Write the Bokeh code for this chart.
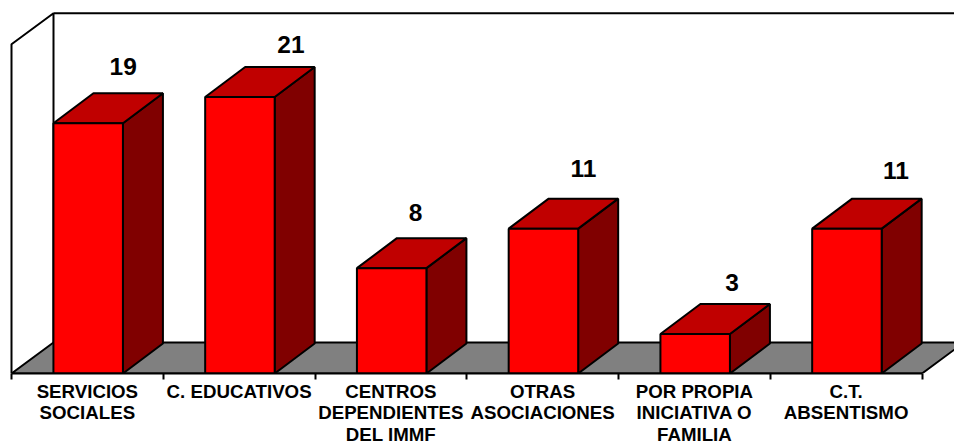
from bokeh.embed import file_html
from bokeh.resources import INLINE
from bokeh.plotting import figure
from bokeh.models import ColumnDataSource, FixedTicker, Range1d
from bokeh.core.properties import value

categories = ["SERVICIOS\nSOCIALES", "C. EDUCATIVOS", "CENTROS\nDEPENDIENTES\nDEL IMMF",
              "OTRAS\nASOCIACIONES", "POR PROPIA\nINICIATIVA O\nFAMILIA", "C.T.\nABSENTISMO"]
values = [19, 21, 8, 11, 3, 11]
axis_max = 25

# pixels per unit of the two scales, and the oblique depth of the 3D box
PX_X, PX_Y = 151.75, 13.17
wall_dx, wall_dy = 42 / PX_X, 31 / PX_Y
bar_dx, bar_dy = 40 / PX_X, 30 / PX_Y
bar_w = 69.5 / PX_X
bar_shift = 0.8 / PX_X

# hand-placed data labels in the original: pixel offsets from the bar's front-top centre
label_dx = [35, 51, 24, 40, 37, 49]
label_dy = [57, 52, 56, 60, 51, 58]

n = len(values)
FW, FH = 954, 373

p = figure(frame_width=FW, frame_height=FH, min_border=0, toolbar_location=None,
           output_backend="svg",
           x_range=Range1d(-11 / PX_X, (FW - 11) / PX_X),
           y_range=Range1d(0, FH / PX_Y),
           background_fill_color="white", border_fill_color="white",
           outline_line_color=None)
p.grid.visible = False
p.yaxis.visible = False

LW = 2
# walls
p.line([0, 0, wall_dx, wall_dx], [0, axis_max, axis_max + wall_dy, wall_dy],
       line_color="black", line_width=LW)
p.line([wall_dx, n + wall_dx], [axis_max + wall_dy] * 2, line_color="black", line_width=LW)
# floor
p.patch([0, wall_dx, n + wall_dx, n], [0, wall_dy, wall_dy, 0],
        fill_color="#808080", line_color="black", line_width=LW)

# bars
lefts = [i + 0.5 + bar_shift - bar_w / 2 for i in range(n)]
rights = [l + bar_w for l in lefts]
p.patches([[r, r + bar_dx, r + bar_dx, r] for r in rights],
          [[0, bar_dy, v + bar_dy, v] for v in values],
          fill_color="#800000", line_color="black", line_width=LW)
p.patches([[l, l + bar_dx, r + bar_dx, r] for l, r in zip(lefts, rights)],
          [[v, v + bar_dy, v + bar_dy, v] for v in values],
          fill_color="#C00000", line_color="black", line_width=LW)
p.quad(left=lefts, right=rights, bottom=0, top=values,
       fill_color="#FF0000", line_color="black", line_width=LW)

# data labels
src = ColumnDataSource(dict(
    x=[i + 0.5 + bar_shift for i in range(n)], y=values,
    t=[str(v) for v in values], xo=label_dx, yo=[-d for d in label_dy]))
p.text("x", "y", text="t", source=src, x_offset="xo", y_offset="yo",
       text_align="center", text_baseline="middle",
       text_font=value("Liberation Sans"), text_font_style="bold",
       text_font_size="24.5px", text_color="black")

# category axis: labels at the centres, tick marks on the boundaries
ax = p.xaxis[0]
centers = [i + 0.5 for i in range(n)]
ax.ticker = FixedTicker(ticks=centers, minor_ticks=list(range(n + 1)))
ax.major_label_overrides = {c: s for c, s in zip(centers, categories)}
ax.bounds = (0, n)
ax.axis_line_color = "black"
ax.axis_line_width = LW
ax.major_tick_line_color = None
ax.major_tick_in = 0
ax.major_tick_out = 0
ax.minor_tick_line_color = "black"
ax.minor_tick_line_width = LW
ax.minor_tick_in = 0
ax.minor_tick_out = 6
ax.major_label_standoff = 1
ax.major_label_text_font = "Liberation Sans"
ax.major_label_text_font_style = "bold"
ax.major_label_text_font_size = "18.7px"
ax.major_label_text_color = "black"
ax.major_label_text_line_height = 1.04

open("out.html", "w").write(file_html(p, INLINE))
